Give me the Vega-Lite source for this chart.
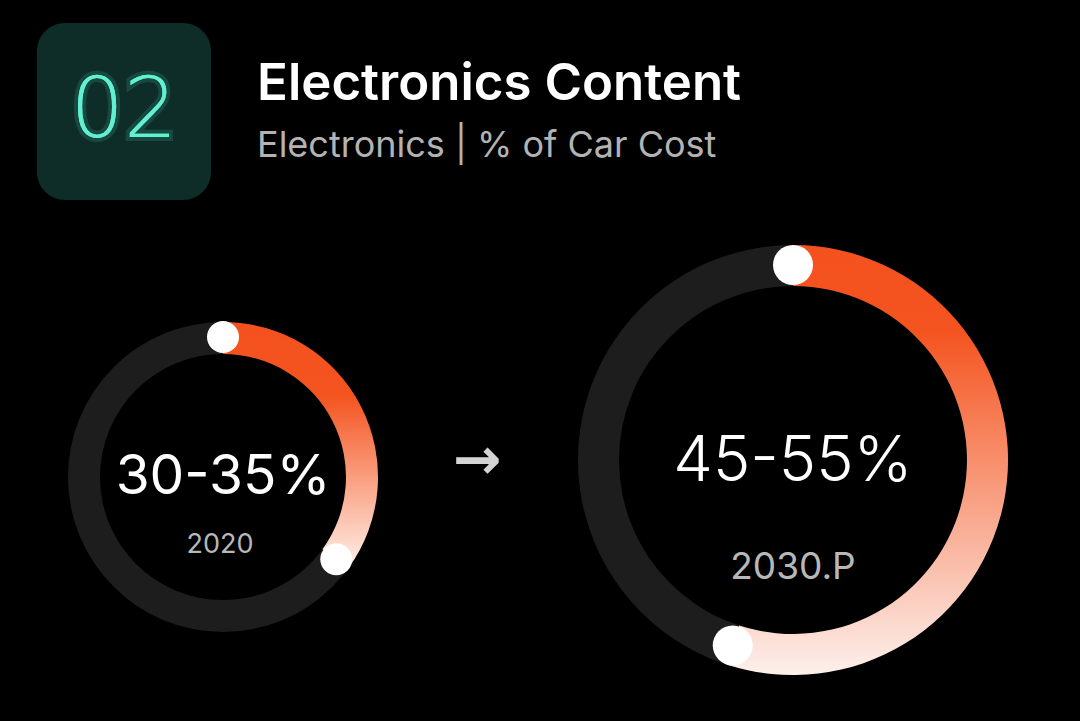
{
  "$schema": "https://vega.github.io/schema/vega-lite/v6.json",
  "background": "#000000",
  "padding": {"left": 37, "top": 23, "right": 39, "bottom": 13},
  "config": {
    "view": {"stroke": null},
    "font": "Inter"
  },
  "datasets": {
    "rings": [
      {"year": "2020", "label": "30-35%", "low": 30, "high": 35},
      {"year": "2030.P", "label": "45-55%", "low": 45, "high": 55}
    ]
  },
  "spacing": 45,
  "vconcat": [
    {
      "spacing": 46,
      "bounds": "flush",
      "hconcat": [
        {
          "width": 174,
          "height": 177,
          "view": {"fill": "#0e2d29", "cornerRadius": 28, "stroke": null},
          "data": {"values": [{"badge": "02"}]},
          "layer": [
            {
              "mark": {"type": "text", "font": "DejaVu Sans", "fontSize": 84, "fontWeight": 200, "baseline": "middle", "fill": "#4fe3c3", "stroke": "#4fe3c3", "strokeWidth": 8, "strokeOpacity": 0.16},
              "encoding": {"text": {"field": "badge"}}
            },
            {
              "mark": {"type": "text", "font": "DejaVu Sans", "fontSize": 84, "fontWeight": 200, "baseline": "middle", "fill": "#62f0d0"},
              "encoding": {"text": {"field": "badge"}}
            }
          ]
        },
        {
          "width": 540,
          "height": 30,
          "data": {"values": [{"t": ""}]},
          "mark": {"type": "text"},
          "encoding": {"text": {"field": "t"}},
          "title": {
            "text": "Electronics Content",
            "subtitle": "Electronics | % of Car Cost",
            "orient": "bottom",
            "anchor": "start",
            "offset": 7,
            "font": "Inter",
            "fontSize": 51,
            "fontWeight": 600,
            "color": "#ffffff",
            "subtitleFont": "Inter",
            "subtitleFontSize": 36,
            "subtitleFontWeight": 400,
            "subtitleColor": "#b3b3b3",
            "subtitlePadding": 18
          }
        }
      ]
    },
    {
      "spacing": 0,
      "hconcat": [
        {
          "width": 372,
          "height": 464,
          "data": {"name": "rings"},
          "transform": [{"filter": "datum.year === '2020'"}],
          "layer": [
            {
              "mark": {"type": "arc", "innerRadius": 123, "outerRadius": 155, "fill": "#1d1d1d", "theta": 0, "theta2": 6.2832}
            },
            {
              "mark": {
                "type": "arc", "innerRadius": 123, "outerRadius": 155, "theta2": 0,
                "fill": {"gradient": "linear", "x1": 0, "y1": 0, "x2": 0, "y2": 1,
                  "stops": [{"offset": 0, "color": "#f4511e"}, {"offset": 0.3, "color": "#f4541f"}, {"offset": 1, "color": "#fff0ea"}]}
              },
              "encoding": {
                "theta": {"field": "high", "type": "quantitative", "scale": {"domain": [0, 100]}}
              }
            },
            {
              "mark": {"type": "arc", "innerRadius": 140, "outerRadius": 140, "theta": 0, "theta2": 0, "fill": "#ffffff", "stroke": "#ffffff", "strokeWidth": 32, "strokeCap": "round", "strokeJoin": "round"}
            },
            {
              "mark": {"type": "arc", "innerRadius": 140, "outerRadius": 140, "fill": "#ffffff", "stroke": "#ffffff", "strokeWidth": 32, "strokeCap": "round", "strokeJoin": "round"},
              "encoding": {
                "theta": {"field": "high", "type": "quantitative"},
                "theta2": {"field": "high"}
              }
            },
            {
              "mark": {"type": "text", "fontSize": 55, "fill": "#ffffff", "baseline": "alphabetic", "dy": 17},
              "encoding": {"text": {"field": "label"}}
            },
            {
              "mark": {"type": "text", "fontSize": 27, "fill": "#b8b8b8", "baseline": "alphabetic", "dx": -3, "dy": 76},
              "encoding": {"text": {"field": "year"}}
            }
          ]
        },
        {
          "width": 136,
          "height": 434,
          "data": {"values": [{"sym": "→"}]},
          "mark": {"type": "text", "font": "DejaVu Sans", "fontSize": 58, "fontWeight": "bold", "fill": "#d4d4d4", "baseline": "middle"},
          "encoding": {"text": {"field": "sym"}}
        },
        {
          "width": 496,
          "height": 430,
          "data": {"name": "rings"},
          "transform": [{"filter": "datum.year === '2030.P'"}],
          "layer": [
            {
              "mark": {"type": "arc", "innerRadius": 174, "outerRadius": 215, "fill": "#1d1d1d", "theta": 0, "theta2": 6.2832}
            },
            {
              "mark": {
                "type": "arc", "innerRadius": 174, "outerRadius": 215, "theta2": 0,
                "fill": {"gradient": "linear", "x1": 0, "y1": 0, "x2": 0, "y2": 1,
                  "stops": [{"offset": 0, "color": "#f4511e"}, {"offset": 0.2, "color": "#f4541f"}, {"offset": 1, "color": "#fdf0ec"}]}
              },
              "encoding": {
                "theta": {"field": "high", "type": "quantitative", "scale": {"domain": [0, 100]}}
              }
            },
            {
              "mark": {"type": "arc", "innerRadius": 195, "outerRadius": 195, "theta": 0, "theta2": 0, "fill": "#ffffff", "stroke": "#ffffff", "strokeWidth": 40, "strokeCap": "round", "strokeJoin": "round"}
            },
            {
              "mark": {"type": "arc", "innerRadius": 195, "outerRadius": 195, "fill": "#ffffff", "stroke": "#ffffff", "strokeWidth": 40, "strokeCap": "round", "strokeJoin": "round"},
              "encoding": {
                "theta": {"field": "high", "type": "quantitative"},
                "theta2": {"field": "high"}
              }
            },
            {
              "mark": {"type": "text", "fontSize": 63, "fontWeight": 300, "fill": "#ffffff", "baseline": "alphabetic", "dy": 21},
              "encoding": {"text": {"field": "label"}}
            },
            {
              "mark": {"type": "text", "fontSize": 37, "fill": "#b8b8b8", "baseline": "alphabetic", "dy": 119},
              "encoding": {"text": {"field": "year"}}
            }
          ]
        }
      ]
    }
  ]
}
